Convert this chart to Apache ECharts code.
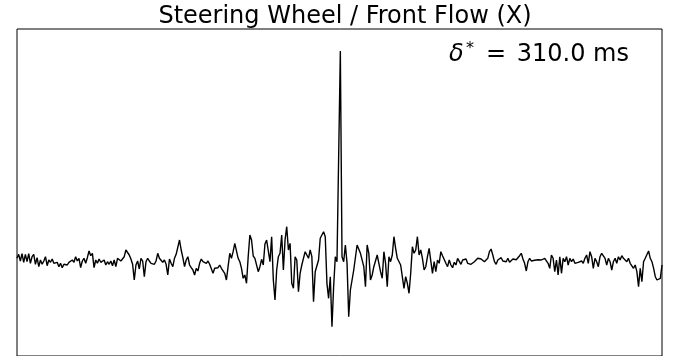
<!DOCTYPE html>
<html>
<head>
<meta charset="utf-8">
<title>Steering Wheel / Front Flow (X)</title>
<script src="https://cdn.jsdelivr.net/npm/echarts@6/dist/echarts.min.js"></script>
<style>
    html, body { margin: 0; padding: 0; background: #fff; }
    #chart { width: 686px; height: 356px; }
</style>
</head>
<body>
<div id="chart"></div>
<script>
// cross-correlation values, left to right (arbitrary units)
const xcorrFarLeft = [1.7, 5.7, -1, 6.3, -2.3, 5.7, -1.7, 6.3, -3.3, 3.3, 5.7, -4.3, 2.3, -6.7, 0, -4.3, -1, 3.3, -5.7, 0,
    -2.3, 1, -3.3, -5, -2.3, -6.7, -3.3, -7.7, -4.3, -3.3, -5, -2.3, -4.3, 0, -2.3, 3.3, -1, 1.7, -7.7, -1,
    1.7, -3.3, 2.3, 9, 4.3, 6.7, -7.7, 0, -3.3, 1, -2.3, -4.3, 0, -5, -1.7, -4.3, -1, -5.7, 0, -6.7, 1.7];
const xcorrLeft = [1.7, -1, 0, 3.3, 10, 9, 5, 1, -4.3, -20, -5, -1, -9, 1.7, -1, -16.7, -1.7, 1.7, -1, -3.3,
    -2.3, -4.3, -1, 6.7, 1.7, 3.3, -2.3, 0, -4.3, -15, 1, -3.3, -6.7, 1.7, 5.7, 6.7, 20, 10, 2.3, -6.7,
    0, 3.3, -5, -7.7, -10, -15, -8.3, -11, -3.3, 1, -1.7, 0, -3.3, -1, -4.3, -3.3, -13.3, -8.3, -6.7, -7.7, -5, -8.3];
const xcorrCenterLeft = [-6.7, -13.3, -20, -6.7, 6.7, 1.7, 8.3, 16.7, 17.3, 1.7, -1.7, -8.3, -18.3, -15, -23.3, 3.3, 25, 20, 4, 1.7,
    2.7, -11.7, -6.7, 0.7, -5, 16, 20, 18.3, -1.7, 23.3, -20, -40, -10, 3.3, 6.7, 25, -10, 20, 33.3, 10,
    16.7, -23.3, -28.3, 3.3, 0, -31.7, -13.3, -5, -3.3, 8.3, 6.7, 1.7, 10, 3.3, -41.7, -11.7, -13.3, 0, 21.7, 25,
    28.3, 23.3, -23.3, -38.3];
const xcorrCenterRight = [-16.7, -66.7, -26.7, 3.3, -1.7, -3.3, 209, 3.3, -1.7, 15, -3.3, -56.7, -30, -28.3, -10, -10, 15, 16.7, 6.7, 5,
    -6.7, -26.7, 15, 6.7, -20, -15, -6.7, -5, 5, -3.3, -11.7, -18.3, 8.3, -3.3, -26.7, 3.3, -1.7, 5, 23.3, 11.7,
    1.7, 3.3, -5, -3.3, -28.3, -16.7, -23.3, -33.3, -13.3, 13.3, 6.7, 10, 23.3, 5, 10, 1.7, -10, -6.7, 3.3, 11.7,
    11.7, -13.3, -1.7];
const xcorrRight = [-11.7, 0, -3.3, 8.3, 4.3, 5.7, -3.3, -6.7, 0, -5, -7.7, -2.3, -5, 1.7, 2.3, -4.3, 0, -1.7, 1, -3.3,
    -1.7, -4.3, -5.7, -1.7, -2.3, 1.7, 3.3, 1, 2.3, -1.7, 0, 1.7, 8.3, 11, 5, -1.7, -4.3, 0, 1.7, 2.3,
    -1, 1, -1.7, 1.7, -2.3, -1, 1, 2.3, 0.3, 1.7, 4.3, 6.7, 1, -3.3, -11, -1.7, 1.7, -1, 1, -0.3,
    1.7, 0.3, 1.7];
const xcorrFarRight = [0, -1.7, 1.7, 3.3, -3.3, -8.3, 5, 1.7, -11.7, 0, -15, 3.3, -13.3, 1.7, -1.7, 3.3, -5, 1.7, -1.7, 1,
    -3.3, -5, -2.3, -4.3, -1, -3.3, 1.7, 5, -3.3, 8.3, 3.3, -8.3, 1.7, -1.7, -6.7, 3.3, 6.7, 5, 1.7, -5,
    1.7, -1.7, -10, -1.7, 1.7, -3.3, 3.3, 0, 4.3, 1.7, 3.3, -1.7, 1.7, -3.3, -1.7, -8.3, -5, -11.7, -26.7, -8.3,
    -21.7, -1.7, 1.7, 3.3, 9, 1.7, -1.7, -8.3, -16.7, -20, -18.3, -18.3, -5];

const titleText = 'Steering Wheel / Front Flow (X)';
const lagText = '310.0 ms';

const xcorr = [].concat(xcorrFarLeft, xcorrLeft, xcorrCenterLeft, xcorrCenterRight, xcorrRight, xcorrFarRight);
// lag sample index, centred on the peak
const peakIndex = xcorr.indexOf(Math.max.apply(null, xcorr));
const lags = xcorr.map((v, i) => i - peakIndex);

const chart = echarts.init(document.getElementById('chart'));
const font = '"DejaVu Sans", sans-serif';

chart.setOption({
    animation: false,
    backgroundColor: '#fff',
    grid: {
        left: 17,
        right: 24,
        top: 29,
        bottom: 0,
        show: true,
        borderColor: '#000',
        borderWidth: 1
    },
    xAxis: {
        type: 'category',
        data: lags,
        boundaryGap: false,
        show: false
    },
    yAxis: {
        type: 'value',
        min: -96,
        max: 231,
        show: false
    },
    series: [{
        type: 'line',
        data: xcorr,
        showSymbol: false,
        lineStyle: { color: '#000', width: 1.4 }
    }],
    graphic: [
        {
            type: 'text', x: 345, y: 17,
            style: { text: titleText, font: '24px ' + font, fill: '#000', textAlign: 'center', textVerticalAlign: 'middle' }
        },
        {
            type: 'text', x: 449, y: 55,
            style: { text: 'δ', font: 'italic 24px ' + font, fill: '#000', textAlign: 'left', textVerticalAlign: 'middle' }
        },
        {
            type: 'text', x: 466, y: 49,
            style: { text: '*', font: '16px ' + font, fill: '#000', textAlign: 'left', textVerticalAlign: 'middle' }
        },
        {
            type: 'text', x: 486, y: 55,
            style: { text: '=', font: '24px ' + font, fill: '#000', textAlign: 'left', textVerticalAlign: 'middle' }
        },
        {
            type: 'text', x: 629, y: 55,
            style: { text: lagText, font: '24px ' + font, fill: '#000', textAlign: 'right', textVerticalAlign: 'middle' }
        }
    ]
});
</script>
</body>
</html>
